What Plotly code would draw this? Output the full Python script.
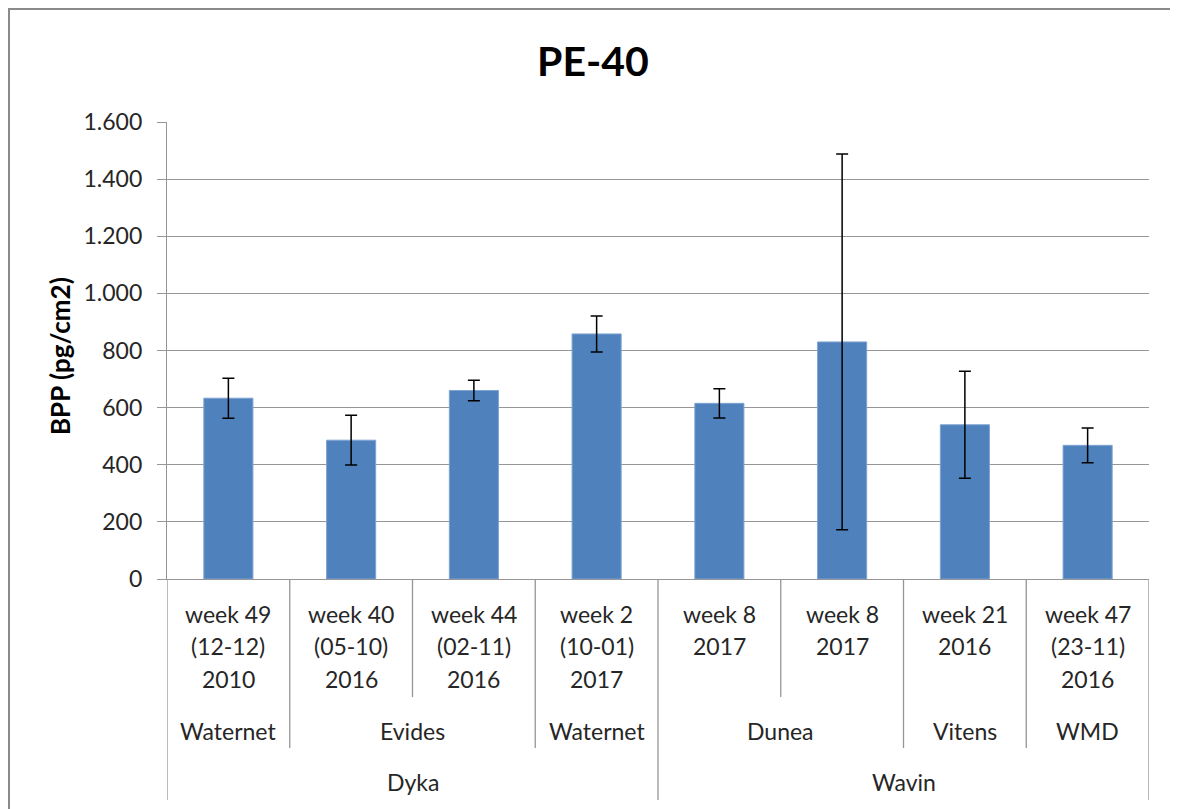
import plotly.graph_objects as go

# ---- data ----
tick_labels = [
    "week 49\n(12-12)\n2010",
    "week 40\n(05-10)\n2016",
    "week 44\n(02-11)\n2016",
    "week 2\n(10-01)\n2017",
    "week 8\n2017",
    "week 8\n2017",
    "week 21\n2016",
    "week 47\n(23-11)\n2016",
]
suppliers = ["Waternet", "Evides", "Evides", "Waternet", "Dunea", "Dunea", "Vitens", "WMD"]
brands = ["Dyka", "Dyka", "Dyka", "Dyka", "Wavin", "Wavin", "Wavin", "Wavin"]
bpp_values = [633, 486, 660, 858, 615, 830, 540, 468]
bpp_errors = [70, 87, 36, 63, 51, 658, 187, 61]
y_ticks = [0, 200, 400, 600, 800, 1000, 1200, 1400, 1600]

# ---- styling / layout constants ----
OFF = 8                      # page body margin
W, H = 1178 - OFF, 809 - OFF
L, T = 167 - OFF, 122 - OFF
R = W - (1149 - OFF)
B = H - (579 - OFF)
plot_h = H - T - B
plot_w = W - L - R
FONT = "Lato"
GRID = "#969696"
LABEL_SIZE = 23


def py(pix):
    """page pixel y (from top) -> paper y"""
    return (H - B - (pix - OFF)) / plot_h


def px(pix):
    return ((pix - OFF) - L) / plot_w


x_pos = list(range(len(bpp_values)))

fig = go.Figure()
fig.add_trace(go.Bar(
    x=x_pos,
    y=bpp_values,
    marker=dict(color="#4F81BD", line=dict(color="#7FA3D3", width=1)),
    error_y=dict(type="data", array=bpp_errors, visible=True,
                 color="black", thickness=1.5, width=6),
    width=0.4,
    hoverinfo="y",
))

annotations = []
shapes = []

# level-1 tick labels (one annotation per line for Excel-like spacing)
line_pix = [614, 646, 679]
for i, lab in enumerate(tick_labels):
    for j, part in enumerate(lab.split("\n")):
        annotations.append(dict(
            x=x_pos[i], xref="x", y=py(line_pix[j]), yref="paper",
            text=part, showarrow=False, xanchor="center", yanchor="middle",
            font=dict(family=FONT, size=LABEL_SIZE, color="#262626"),
        ))


def runs(seq):
    out = []
    start = 0
    for k in range(1, len(seq) + 1):
        if k == len(seq) or seq[k] != seq[start]:
            out.append((seq[start], start, k - 1))
            start = k
    return out


for name, a, b in runs(suppliers):
    annotations.append(dict(
        x=(x_pos[a] + x_pos[b]) / 2, xref="x", y=py(731), yref="paper",
        text=name, showarrow=False, xanchor="center", yanchor="middle",
        font=dict(family=FONT, size=LABEL_SIZE, color="#262626"),
    ))
for name, a, b in runs(brands):
    annotations.append(dict(
        x=(x_pos[a] + x_pos[b]) / 2, xref="x", y=py(782), yref="paper",
        text=name, showarrow=False, xanchor="center", yanchor="middle",
        font=dict(family=FONT, size=LABEL_SIZE, color="#262626"),
    ))

# separator lines under the axis
n = len(x_pos)
for k in range(n + 1):
    if k == 0 or k == n or brands[k] != brands[k - 1]:
        end = 800
    elif suppliers[k] != suppliers[k - 1]:
        end = 748
    else:
        end = 697
    shapes.append(dict(
        type="line", xref="x", yref="paper",
        x0=k - 0.5, x1=k - 0.5, y0=0, y1=py(end),
        line=dict(color=GRID, width=1.3),
    ))

# outer chart border
shapes.append(dict(
    type="rect", xref="paper", yref="paper",
    x0=px(9), x1=px(1177), y0=py(830), y1=py(9),
    line=dict(color="#8a8a8a", width=2), layer="below",
))

# y-axis title
annotations.append(dict(
    x=px(60), xref="paper", y=py(356), yref="paper",
    text="<b>BPP (pg/cm2)</b>", textangle=-90, showarrow=False,
    xanchor="center", yanchor="middle",
    font=dict(family=FONT, size=26, color="black"),
))

fig.update_layout(
    width=W, height=H,
    margin=dict(l=L, r=R, t=T, b=B),
    paper_bgcolor="white", plot_bgcolor="white",
    separators=",.",
    showlegend=False,
    title=dict(text="<b>PE-40</b>", x=(593 - OFF) / W, xanchor="center",
               y=1 - (62 - OFF) / H, yanchor="middle",
               font=dict(family=FONT, size=41, color="black")),
    xaxis=dict(range=[-0.5, n - 0.5], showticklabels=False, ticks="",
               showgrid=False, zeroline=False, showline=True,
               linecolor=GRID, linewidth=1.3, fixedrange=True),
    yaxis=dict(range=[0, 1600], tickvals=y_ticks, tickformat=",d",
               showgrid=True, gridcolor=GRID, gridwidth=1.3,
               zeroline=False, showline=True, linecolor=GRID, linewidth=1.3,
               ticks="outside", ticklen=9, tickcolor=GRID, tickwidth=1.3,
               ticklabelstandoff=10,
               tickfont=dict(family=FONT, size=LABEL_SIZE, color="#262626")),
    annotations=annotations,
    shapes=shapes,
)

fig.write_html("out.html")
